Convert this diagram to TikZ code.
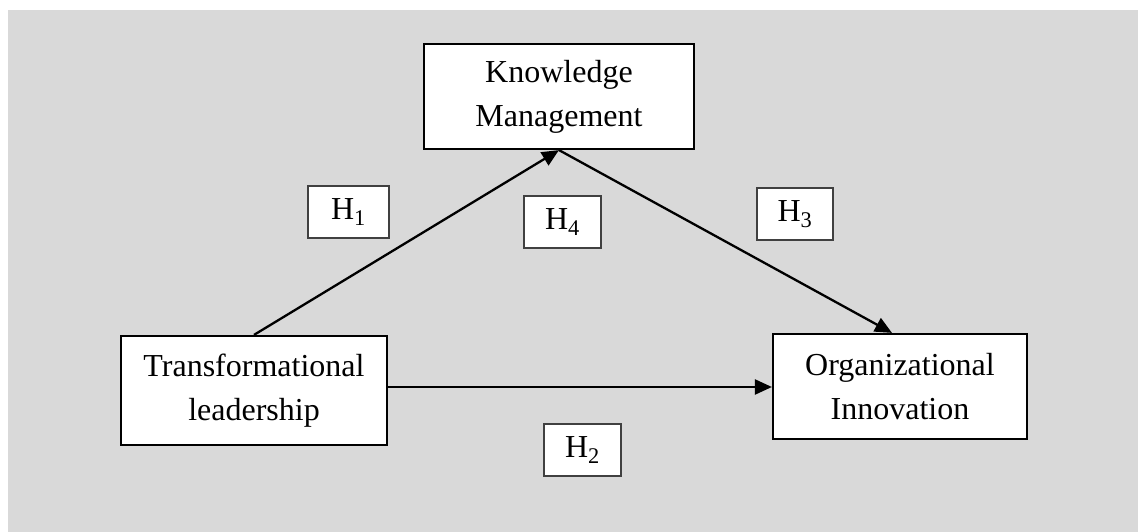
\documentclass[tikz,border=0pt]{standalone}
\usepackage{fontspec}
\setmainfont{Liberation Serif}
\usetikzlibrary{arrows.meta}
\definecolor{panel}{HTML}{D9D9D9}
\definecolor{hline}{HTML}{404040}
\begin{document}
\begin{tikzpicture}[x=1pt,y=-1pt,
  concept/.style={draw=black, line width=2.2pt, fill=white, align=center,
    inner sep=0pt, font=\fontsize{32}{44}\selectfont},
  hyp/.style={draw=hline, line width=1.1pt, fill=white, inner sep=0pt,
    minimum height=52pt, font=\fontsize{32}{38}\selectfont},
  link/.style={line width=2.3pt, -{Triangle[length=17pt,width=15pt]}}]
  \useasboundingbox (0,0) rectangle (1138,532);
  \fill[panel] (8,10) rectangle (1138,532);

  % constructs
  \node[concept, minimum width=270pt, minimum height=105pt] (km) at (559,96.5)
    {Knowledge\\Management};
  \node[concept, minimum width=266pt, minimum height=109pt] (tl) at (254,390.5)
    {Transformational\\leadership};
  \node[concept, minimum width=254pt, minimum height=105pt] (oi) at (900,386.5)
    {Organizational\\Innovation};

  % hypotheses
  \node[hyp, minimum width=81pt] (h1) at (348.5,212) {H\textsubscript{1}};
  \node[hyp, minimum width=77pt] (h4) at (562.5,222) {H\textsubscript{4}};
  \node[hyp, minimum width=76pt] (h3) at (795,214) {H\textsubscript{3}};
  \node[hyp, minimum width=77pt] (h2) at (582.5,450) {H\textsubscript{2}};

  % paths
  \draw[link] (tl.north) -- (km.south);
  \draw[link] (km.south) -- ([xshift=-8pt]oi.north);
  \draw[link] (tl.east |- 0,387) coordinate (s) -- (oi.west |- s);
\end{tikzpicture}
\end{document}
